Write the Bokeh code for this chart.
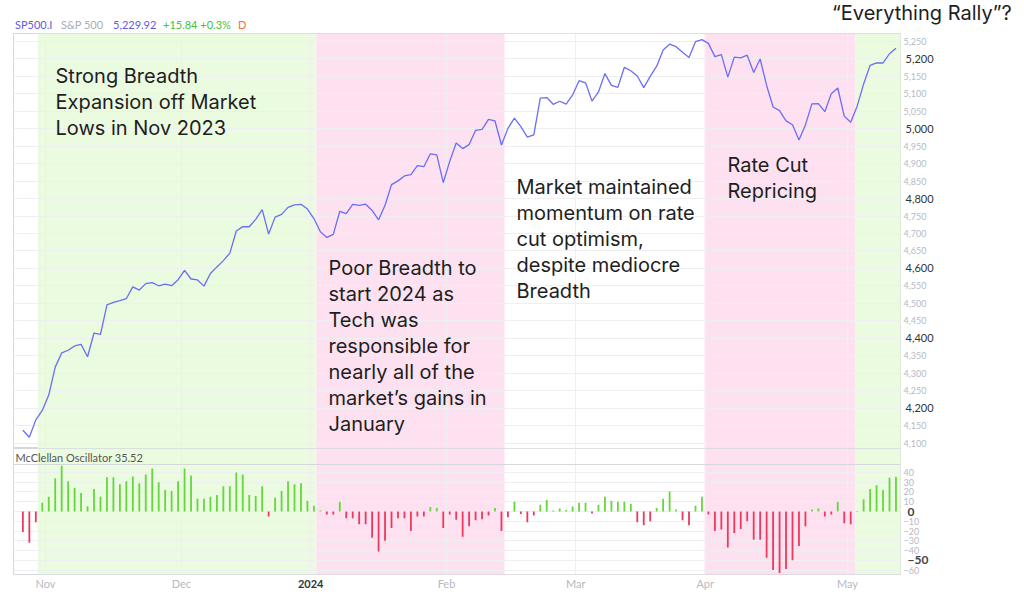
from bokeh.plotting import figure
from bokeh.models import (Range1d, FixedTicker, NumeralTickFormatter, Grid, BoxAnnotation,
                          Label, ColumnDataSource, Span, LinearAxis, Div)
from bokeh.layouts import column
from bokeh.embed import file_html
from bokeh.resources import INLINE

# ---------------- data ----------------
dates = [
    "2023-10-26", "2023-10-27", "2023-10-30", "2023-10-31",
    "2023-11-01", "2023-11-02", "2023-11-03", "2023-11-06", "2023-11-07", "2023-11-08", "2023-11-09",
    "2023-11-10", "2023-11-13", "2023-11-14", "2023-11-15", "2023-11-16", "2023-11-17", "2023-11-20",
    "2023-11-21", "2023-11-22", "2023-11-24", "2023-11-27", "2023-11-28", "2023-11-29", "2023-11-30",
    "2023-12-01", "2023-12-04", "2023-12-05", "2023-12-06", "2023-12-07", "2023-12-08", "2023-12-11",
    "2023-12-12", "2023-12-13", "2023-12-14", "2023-12-15", "2023-12-18", "2023-12-19", "2023-12-20",
    "2023-12-21", "2023-12-22", "2023-12-26", "2023-12-27", "2023-12-28", "2023-12-29",
    "2024-01-02", "2024-01-03", "2024-01-04", "2024-01-05", "2024-01-08", "2024-01-09", "2024-01-10",
    "2024-01-11", "2024-01-12", "2024-01-16", "2024-01-17", "2024-01-18", "2024-01-19", "2024-01-22",
    "2024-01-23", "2024-01-24", "2024-01-25", "2024-01-26", "2024-01-29", "2024-01-30", "2024-01-31",
    "2024-02-01", "2024-02-02", "2024-02-05", "2024-02-06", "2024-02-07", "2024-02-08", "2024-02-09",
    "2024-02-12", "2024-02-13", "2024-02-14", "2024-02-15", "2024-02-16", "2024-02-20", "2024-02-21",
    "2024-02-22", "2024-02-23", "2024-02-26", "2024-02-27", "2024-02-28", "2024-02-29",
    "2024-03-01", "2024-03-04", "2024-03-05", "2024-03-06", "2024-03-07", "2024-03-08", "2024-03-11",
    "2024-03-12", "2024-03-13", "2024-03-14", "2024-03-15", "2024-03-18", "2024-03-19", "2024-03-20",
    "2024-03-21", "2024-03-22", "2024-03-25", "2024-03-26", "2024-03-27", "2024-03-28",
    "2024-04-01", "2024-04-02", "2024-04-03", "2024-04-04", "2024-04-05", "2024-04-08", "2024-04-09",
    "2024-04-10", "2024-04-11", "2024-04-12", "2024-04-15", "2024-04-16", "2024-04-17", "2024-04-18",
    "2024-04-19", "2024-04-22", "2024-04-23", "2024-04-24", "2024-04-25", "2024-04-26", "2024-04-29",
    "2024-04-30",
    "2024-05-01", "2024-05-02", "2024-05-03", "2024-05-06", "2024-05-07", "2024-05-08", "2024-05-09",
    "2024-05-10",
]

spx = [
    4137.23, 4117.37, 4166.82, 4193.80,
    4237.86, 4317.78, 4358.34, 4365.98, 4378.38, 4382.78, 4347.35, 4415.24, 4411.55, 4495.70, 4502.88,
    4508.24, 4514.02, 4547.38, 4538.19, 4556.62, 4559.34, 4550.43, 4554.89, 4550.58, 4567.80,
    4594.63, 4569.78, 4567.18, 4549.34, 4585.59, 4604.37, 4622.44, 4643.70, 4707.09, 4719.55, 4719.19,
    4740.56, 4768.37, 4698.35, 4746.75, 4754.63, 4774.75, 4781.58, 4783.35, 4769.83,
    4742.83, 4704.81, 4688.68, 4697.24, 4763.54, 4756.50, 4783.45, 4780.24, 4783.83, 4765.98, 4739.21,
    4780.94, 4839.81, 4850.43, 4864.60, 4868.55, 4894.16, 4890.97, 4927.93, 4924.97, 4845.65,
    4906.19, 4958.61, 4942.81, 4954.23, 4995.06, 4997.91, 5026.61, 5021.84, 4953.17, 5000.62, 5029.73,
    5005.57, 4975.51, 4981.80, 5087.03, 5088.80, 5069.53, 5078.18, 5069.76, 5096.27,
    5137.08, 5130.95, 5078.65, 5104.76, 5157.36, 5123.69, 5117.94, 5175.27, 5165.31, 5150.48, 5117.09,
    5149.42, 5178.51, 5224.62, 5241.53, 5234.18, 5218.19, 5203.58, 5248.49, 5254.35,
    5243.77, 5205.81, 5211.49, 5147.21, 5204.34, 5202.39, 5209.91, 5160.64, 5199.06, 5123.41, 5061.82,
    5051.41, 5022.21, 5011.12, 4967.23, 5010.60, 5070.55, 5071.63, 5048.42, 5099.96, 5116.17, 5035.69,
    5018.39, 5064.20, 5127.79, 5180.74, 5187.70, 5187.67, 5214.08, 5229.92,
]

mcclellan = [
    -21, -32, -11, 9,
    15, 34, 47, 31, 24, 19, 5.5, 23, 15, 35, 35, 28, 31, 36, 29, 38, 44, 30, 22, 21, 31,
    44, 37, 13, 13, 15, 17, 26, 26, 40, 38, 17, 16, 26, -5, 14, 21, 31, 28, 29, 11,
    6, 1, -3, -3, 10, -7, -7, -13, -13, -27, -41, -30, -17, -7, -7, -20, -5, -5, 4.5, 3.5, -17,
    -3, -8.5, -26, -15, -9, -8, -4, 3.5, -20, -6, 10, -2.5, -11, -4, 7, 12, 1, 3, 1.5, 5,
    9, 9, -2, 7, 15, 11, 10, 10, 8, -11, -14, -10, 3.5, 13, 20.5, 2, -9, -14, 6, 15,
    -3, -20, -18.5, -37, -22, -18, -10, -29, -29, -47.5, -60, -63, -59, -50, -35.5, -15, 2, 3, -5,
    -3, 10, -12,
    -13, 0.5, 12.5, 23, 27, 22, 34.5, 35.52,
]

month_first = ["2023-11-01", "2023-12-01", "2024-01-02", "2024-02-01", "2024-03-01", "2024-04-01", "2024-05-01"]
month_labels = ["Nov", "Dec", "2024", "Feb", "Mar", "Apr", "May"]
year_label = "2024"

spx_ticks = [4100, 4150, 4200, 4250, 4300, 4350, 4400, 4450, 4500, 4550, 4600, 4650, 4700, 4750,
             4800, 4850, 4900, 4950, 5000, 5050, 5100, 5150, 5200, 5250]
spx_major = [4200, 4400, 4600, 4800, 5000, 5200]
osc_ticks = [-60, -50, -40, -30, -20, -10, 0, 10, 20, 30, 40]
osc_major = [0, -50]

# highlighted regimes (in trading-day index units)
regime_start = [2.3, 45.4, 74.5, 105.4, 128.7]
regime_end = [45.4, 74.5, 105.4, 128.7, 136.0]
regime_color = ["#ebfbe0", "#fde1f0", "#ffffff", "#fde1f0", "#ebfbe0"]

header_parts = [("SP500.I", "#5b5be8"), ("S&P 500", "#a9adb5"), ("5,229.92", "#5b5be8"),
                ("+15.84 +0.3%", "#3fc43a"), ("D", "#f2733f")]
header_x = [15, 61, 113, 163, 238]
corner_note = "\u201cEverything Rally\u201d?"

# ---------------- layout constants ----------------
W = 1018
HEAD_H, TOP_H, LOW_H = 33, 415, 144
X0, X1 = -1.45, 135.7
Y0, Y1 = 4085, 5272
L0, L1 = -64.6, 64.6
LOW_FRAME = 126

idx = list(range(len(dates)))
month_ticks = [dates.index(d) - 0.5 for d in month_first]


def tx(px):
    return X0 + (px - 13) * (X1 - X0) / 887


def ty(py):
    return Y1 - (py - 33) * (Y1 - Y0) / 415


def ly(py):
    return L1 - (py - 448) * (L1 - L0) / LOW_FRAME


LIGHT = "#b6bac2"
DARK = "#333333"
GREEN = "#66d63f"
RED = "#ec3a5e"
BORDER = "#d4d7dc"
GRID = "#eeeff1"
TEXT = "#1e1e1e"


def plain_axis(axis, size, color, standoff, bold=False):
    axis.major_label_text_font = "Lato"
    axis.major_label_text_font_size = size
    axis.major_label_text_color = color
    axis.major_label_text_font_style = "bold" if bold else "normal"
    axis.axis_line_color = None
    axis.major_tick_line_color = None
    axis.minor_tick_line_color = None
    axis.major_tick_out = 0
    axis.major_tick_in = 0
    axis.minor_tick_out = 0
    axis.minor_tick_in = 0
    axis.major_label_standoff = standoff


xr = Range1d(X0, X1)

# ---------------- header (HTML) ----------------
spans = "".join(
    f'<span style="position:absolute;left:{px}px;top:18px;font-family:Lato;font-size:11px;'
    f'line-height:13px;color:{c};white-space:nowrap">{t.replace("&", "&amp;")}</span>'
    for (t, c), px in zip(header_parts, header_x))
spans += (f'<span style="position:absolute;left:832px;top:1px;font-family:Inter;font-size:20px;'
          f'line-height:24px;color:{TEXT};white-space:nowrap">{corner_note}</span>')
head = Div(text=f'<div style="position:relative;width:{W}px;height:{HEAD_H}px">{spans}</div>',
           width=W, height=HEAD_H, margin=0)

# ---------------- top panel ----------------
top = figure(width=W, height=TOP_H, x_range=xr, y_range=Range1d(Y0, Y1),
             output_backend="svg", toolbar_location=None,
             x_axis_location=None, y_axis_location="right",
             min_border_left=13, min_border_right=118, min_border_top=0, min_border_bottom=0,
             outline_line_color=BORDER, margin=0)
top.xgrid.visible = False

for s, e, c in zip(regime_start, regime_end, regime_color):
    top.add_layout(BoxAnnotation(left=s, right=e, fill_color=c, fill_alpha=1.0,
                                 line_color=None, level="image"))

top.add_layout(Grid(dimension=0, ticker=FixedTicker(ticks=month_ticks),
                    grid_line_color=GRID, level="underlay"))
top.ygrid.grid_line_color = GRID

# light labels (every 50) next to the frame
ax = top.yaxis[0]
ax.ticker = FixedTicker(ticks=spx_ticks)
ax.formatter = NumeralTickFormatter(format="0,0")
ax.major_label_overrides = {v: "" for v in spx_major}
plain_axis(ax, "9px", LIGHT, 3)

# dark labels (every 200), pulled back onto the same column
ax_major = LinearAxis(ticker=FixedTicker(ticks=spx_major), formatter=NumeralTickFormatter(format="0,0"))
plain_axis(ax_major, "11px", DARK, -24)
top.add_layout(ax_major, "right")

top.line(idx, spx, line_color="#6b6df5", line_width=1.3)


def add_lines(lines, px, base, step=26):
    for i, s in enumerate(lines):
        top.add_layout(Label(x=tx(px), y=ty(base + i * step), text=s, text_font="Inter",
                             text_font_size="20px", text_color=TEXT,
                             text_baseline="alphabetic", text_align="left"))


add_lines(["Strong Breadth", "Expansion off Market", "Lows in Nov 2023"], 55, 75)
add_lines(["Poor Breadth to", "start 2024 as", "Tech was", "responsible for",
           "nearly all of the", "market\u2019s gains in", "January"], 328, 267)
add_lines(["Market maintained", "momentum on rate", "cut optimism,", "despite mediocre",
           "Breadth"], 516, 186)
add_lines(["Rate Cut", "Repricing"], 727, 164)

# ---------------- lower panel ----------------
low = figure(width=W, height=LOW_H, x_range=xr, y_range=Range1d(L0, L1),
             output_backend="svg", toolbar_location=None,
             x_axis_location="below", y_axis_location="right",
             min_border_left=13, min_border_right=118, min_border_top=0, min_border_bottom=LOW_H - LOW_FRAME,
             outline_line_color=BORDER, margin=0)

for s, e, c in zip(regime_start, regime_end, regime_color):
    low.add_layout(BoxAnnotation(left=s, right=e, fill_color=c, fill_alpha=1.0,
                                 line_color=None, level="image"))

low.xgrid.visible = False
low.add_layout(Grid(dimension=0, ticker=FixedTicker(ticks=month_ticks),
                    grid_line_color=GRID, level="underlay"))
low.ygrid.grid_line_color = GRID

lax = low.yaxis[0]
lax.ticker = FixedTicker(ticks=osc_ticks)
lax.major_label_overrides = {v: "" for v in osc_major}
plain_axis(lax, "9px", LIGHT, 3)

lax_major = LinearAxis(ticker=FixedTicker(ticks=osc_major))
plain_axis(lax_major, "12px", "#444444", -15, bold=True)
low.add_layout(lax_major, "right")

xax = low.xaxis[0]
xax.ticker = FixedTicker(ticks=month_ticks)
xax.major_label_overrides = {t: (l if l != year_label else "") for t, l in zip(month_ticks, month_labels)}
plain_axis(xax, "11px", LIGHT, 2)

year_tick = month_ticks[month_labels.index(year_label)]
xax_year = LinearAxis(ticker=FixedTicker(ticks=[year_tick]),
                      major_label_overrides={year_tick: year_label})
plain_axis(xax_year, "11px", DARK, -13, bold=True)
low.add_layout(xax_year, "below")

osc_src = ColumnDataSource(dict(x=idx, v=mcclellan,
                                c=[GREEN if v >= 0 else RED for v in mcclellan]))
low.vbar(x="x", top="v", bottom=0, width=0.28, fill_color="c", line_color=None, source=osc_src)

low.add_layout(Span(location=ly(464), dimension="width", line_color=BORDER, line_width=1))
low.add_layout(Label(x=tx(15), y=ly(457), text="McClellan Oscillator 35.52", text_font="Lato",
                     text_font_size="11px", text_color="#555555", text_baseline="middle",
                     text_align="left"))

layout = column(head, top, low, spacing=0)
open("out.html", "w").write(file_html(layout, INLINE))
